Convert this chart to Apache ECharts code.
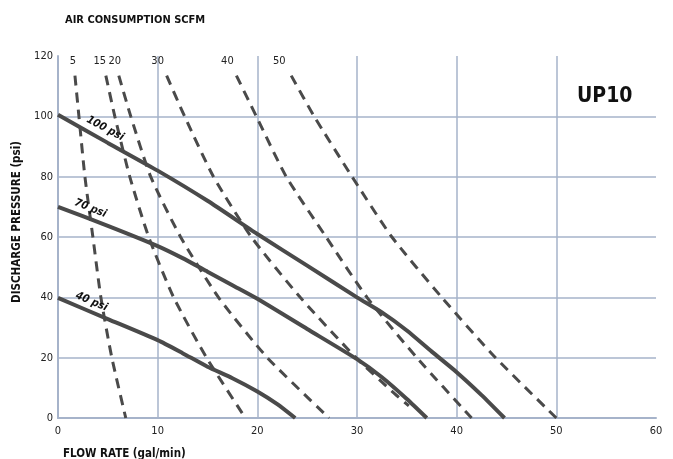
<!DOCTYPE html>
<html><head><meta charset="utf-8">
<script src="https://cdn.jsdelivr.net/npm/echarts@6/dist/echarts.min.js"></script>
<style>html,body{margin:0;padding:0;background:#fff}#c{width:673px;height:459px}</style>
</head><body><div id="c"></div>
<script>
const FONT = '"Liberation Sans Narrow","DejaVu Sans Condensed","DejaVu Sans",sans-serif';

// Pump curves: flow rate (gal/min) vs discharge pressure (psi) at given air inlet pressure
const psi100Flow = [0, 5, 10, 15, 20, 25, 30, 32.5, 35, 37.5, 40, 42.5, 44.8];
const psi100Pres = [100.5, 91.2, 82, 72, 61, 50.5, 40, 35, 29, 22, 15.2, 7.6, 0];
const psi70Flow = [0, 5, 10, 12.5, 15, 17.5, 20, 25, 30, 32.5, 35, 37];
const psi70Pres = [70, 63.7, 57, 53, 48.5, 44, 39.5, 29.5, 19.5, 13.5, 6.3, 0];
const psi40Flow = [0, 5, 10, 12.5, 15, 17.5, 20, 22, 23.8];
const psi40Pres = [39.8, 32.8, 25.8, 21.5, 17, 13.2, 8.8, 4.6, 0];

// Air consumption curves (SCFM)
const scfmPres = [113.5, 100, 80, 60, 40, 20, 0];
const scfm5Flow = [1.7, 2.1, 2.7, 3.5, 4.3, 5.4, 6.8];
const scfm15Flow = [4.8, 5.7, 7.2, 9.1, 11.6, 14.9, 18.8];
const scfm20Flow = [6.1, 7.3, 9.3, 12.3, 16.1, 21.0, 27.2];
const scfm30Flow = [10.9, 12.7, 15.6, 19.4, 24.3, 29.9, 33.8, 35.2];
const scfm30Pres = [113.5, 100, 80, 60, 40, 20, 8, 4];
const scfm40Flow = [17.9, 19.9, 22.9, 26.9, 31, 36, 41.5];
const scfm50Flow = [23.4, 25.7, 29.5, 33.5, 38.5, 43.9, 50];

const GRID = '#a6b3ca';
const INK = '#4a4a4a';
const CLEAR = 'rgba(0,0,0,0)';

function pairs(xs, ys) { return xs.map((x, i) => [x, ys[i]]); }

function psiSeries(name, xs, ys, k, rot, off) {
  const data = pairs(xs, ys).map((p, i) => i === k ? {
    value: p,
    label: { show: true, formatter: name, position: 'top', distance: 4, rotate: rot, offset: off,
      fontFamily: FONT, fontWeight: 'bold', fontStyle: 'italic', fontSize: 11, color: '#111' }
  } : p);
  return { type: 'line', name, data, symbol: 'circle', symbolSize: 1, showSymbol: true, showAllSymbol: true,
    smooth: 0.2, lineStyle: { color: INK, width: 4 }, itemStyle: { color: CLEAR, borderWidth: 0 },
    emphasis: { disabled: true }, z: 4 };
}

function scfmSeries(name, xs, ys, dx) {
  const data = pairs(xs, ys).map((p, i) => i === 0 ? {
    value: p,
    label: { show: true, formatter: name, position: 'top', distance: 8, offset: [dx, 0],
      fontFamily: FONT, fontSize: 11, color: '#222' }
  } : p);
  return { type: 'line', name: name + ' SCFM', data, symbol: 'circle', symbolSize: 1, showSymbol: true, showAllSymbol: true,
    smooth: 0.2, lineStyle: { color: INK, width: 3, type: [10, 7], cap: 'butt' }, itemStyle: { color: CLEAR, borderWidth: 0 },
    emphasis: { disabled: true }, z: 3 };
}

const chart = echarts.init(document.getElementById('c'), null, { renderer: 'canvas' });
chart.setOption({
  animation: false,
  backgroundColor: '#fff',
  title: [
    { text: 'AIR CONSUMPTION SCFM', left: 60, top: 10, textStyle: { fontFamily: FONT, fontWeight: 'bold', fontSize: 11, color: '#111' } },
    { text: 'UP10', left: 572, top: 81, textStyle: { fontFamily: FONT, fontWeight: 'bold', fontSize: 21, color: '#111' } },
    { text: 'FLOW RATE (gal/min)', left: 58, top: 443, textStyle: { fontFamily: FONT, fontWeight: 'bold', fontSize: 11.5, color: '#111' } }
  ],
  grid: { left: 58, right: 17, top: 56, bottom: 41, containLabel: false },
  xAxis: {
    type: 'value', min: 0, max: 60, interval: 10,
    axisLine: { show: true, lineStyle: { color: GRID, width: 2 } },
    axisTick: { show: false },
    axisLabel: { margin: 8, fontFamily: FONT, fontSize: 11, color: '#222' },
    splitLine: { show: true, showMinLine: false, showMaxLine: false, lineStyle: { color: GRID, width: 1.5 } }
  },
  yAxis: {
    type: 'value', min: 0, max: 120, interval: 20,
    name: 'DISCHARGE PRESSURE (psi)', nameLocation: 'middle', nameGap: 33,
    nameTextStyle: { fontFamily: FONT, fontWeight: 'bold', fontSize: 11.5, color: '#111', padding: [0, 0, 0, 30] },
    axisLine: { show: true, lineStyle: { color: GRID, width: 2 } },
    axisTick: { show: false },
    axisLabel: { margin: 5, fontFamily: FONT, fontSize: 11, color: '#222' },
    splitLine: { show: true, showMinLine: false, showMaxLine: false, lineStyle: { color: GRID, width: 1.5 } }
  },
  series: [
    scfmSeries('5', scfm5Flow, scfmPres, -2),
    scfmSeries('15', scfm15Flow, scfmPres, -6),
    scfmSeries('20', scfm20Flow, scfmPres, -4),
    scfmSeries('30', scfm30Flow, scfm30Pres, -9),
    scfmSeries('40', scfm40Flow, scfmPres, -9),
    scfmSeries('50', scfm50Flow, scfmPres, -12),
    psiSeries('100 psi', psi100Flow, psi100Pres, 1, -28, [-7, -2]),
    psiSeries('70 psi', psi70Flow, psi70Pres, 1, -22, [-21, 0]),
    psiSeries('40 psi', psi40Flow, psi40Pres, 1, -23, [-20, 0])
  ]
});
</script></body></html>
